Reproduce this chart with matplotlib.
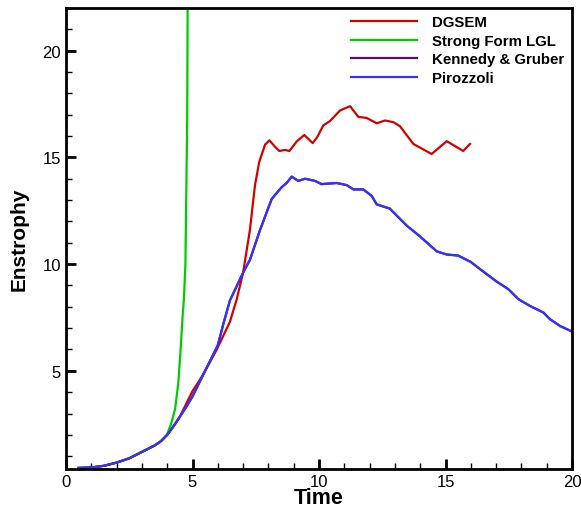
import matplotlib
matplotlib.use("Agg")
import matplotlib.pyplot as plt
from matplotlib.ticker import MultipleLocator

plt.rcParams['font.family'] = ['Liberation Sans', 'DejaVu Sans']

# Pirozzoli (blue)
t_piro = [0.5, 1.0, 1.5, 2.0, 2.5, 3.0, 3.5, 3.75, 4.0, 4.25, 4.5, 4.75, 5.0, 5.5, 6.0, 6.22, 6.48,
          7.0, 7.27, 7.67, 8.13, 8.52, 8.72, 8.92, 9.18, 9.45, 9.84, 10.1, 10.7, 11.1, 11.36, 11.75,
          12.08, 12.28, 12.8, 13.47, 13.99, 14.65, 15.05, 15.5, 16.0, 16.36, 17.0, 17.48, 17.88,
          18.34, 18.87, 19.13, 19.53, 20.0]
e_piro = [0.45, 0.47, 0.55, 0.7, 0.9, 1.2, 1.5, 1.7, 2.0, 2.4, 2.85, 3.3, 3.8, 5.0, 6.2, 7.2, 8.3,
          9.6, 10.2, 11.6, 13.05, 13.6, 13.8, 14.1, 13.9, 14.0, 13.9, 13.75, 13.8, 13.7, 13.5, 13.5,
          13.2, 12.8, 12.6, 11.8, 11.3, 10.6, 10.45, 10.4, 10.1, 9.77, 9.2, 8.83, 8.36,
          8.04, 7.73, 7.42, 7.1, 6.84]

# Kennedy & Gruber (purple, coincides with Pirozzoli)
t_kg = t_piro
e_kg = e_piro

# DGSEM (red)
t_dg = [0.5, 1.0, 1.5, 2.0, 2.5, 3.0, 3.5, 3.75, 4.0, 4.25, 4.5, 4.75, 5.0, 5.25, 5.5, 5.96, 6.48,
        6.75, 7.0, 7.27, 7.47, 7.64, 7.87, 8.04, 8.26, 8.43, 8.66, 8.83, 9.12, 9.42, 9.75, 9.93,
        10.17, 10.43, 10.83, 11.23, 11.55, 11.88, 12.28, 12.61, 12.94, 13.2, 13.73, 14.45, 15.05,
        15.7, 15.97]
e_dg = [0.45, 0.47, 0.55, 0.7, 0.9, 1.2, 1.5, 1.7, 2.0, 2.4, 2.85, 3.45, 4.05, 4.5, 5.0, 6.0, 7.3,
        8.36, 9.6, 11.6, 13.7, 14.8, 15.6, 15.8, 15.5, 15.3, 15.35, 15.3, 15.75, 16.05, 15.67, 15.95,
        16.5, 16.7, 17.2, 17.4, 16.9, 16.85, 16.6, 16.73, 16.65, 16.46, 15.63, 15.16, 15.76,
        15.3, 15.63]

# Strong Form LGL (green)
t_lgl = [0.5, 1.0, 1.5, 2.0, 2.5, 3.0, 3.5, 3.75, 3.98, 4.15, 4.31, 4.44, 4.53, 4.61, 4.66, 4.72,
         4.79, 4.81]
e_lgl = [0.45, 0.47, 0.55, 0.7, 0.9, 1.2, 1.5, 1.7, 1.98, 2.5, 3.2, 4.44, 6.0, 7.57, 8.36, 10.0,
         16.8, 22.5]

fig = plt.figure(figsize=(5.81, 5.10), dpi=100)
ax = fig.add_axes([66/581, 1-470/510, (572-66)/581, (470-9)/510])

ax.plot(t_dg, e_dg, color='#d40000', lw=1.6, label='DGSEM')
ax.plot(t_lgl, e_lgl, color='#00cc00', lw=1.6, label='Strong Form LGL')
ax.plot(t_kg, e_kg, color='#5a1060', lw=1.6, label='Kennedy & Gruber')
ax.plot(t_piro, e_piro, color='#3333ff', lw=1.6, label='Pirozzoli')

ax.set_xlim(0, 20)
ax.set_ylim(0.4, 22)
ax.xaxis.set_major_locator(MultipleLocator(5))
ax.xaxis.set_minor_locator(MultipleLocator(1))
ax.yaxis.set_major_locator(MultipleLocator(5))
ax.yaxis.set_minor_locator(MultipleLocator(1))
ax.set_yticks([5, 10, 15, 20])
ax.tick_params(which='both', direction='in', top=False, right=False, labelsize=12)
ax.tick_params(which='major', length=7, width=2)
ax.tick_params(which='minor', length=4, width=1)
for s in ax.spines.values():
    s.set_linewidth(2)

ax.set_xlabel('Time', fontsize=15.5, fontweight='bold', labelpad=-1)
ax.set_ylabel('Enstrophy', fontsize=15, fontweight='bold', labelpad=10)

leg = ax.legend(loc='upper right', frameon=False, prop={'weight': 'bold', 'size': 10.8},
                handlelength=4.4, handletextpad=1.0, labelspacing=0.3,
                bbox_to_anchor=(1.0, 1.0), borderaxespad=0.1)

fig.savefig('out.png', dpi=100)
